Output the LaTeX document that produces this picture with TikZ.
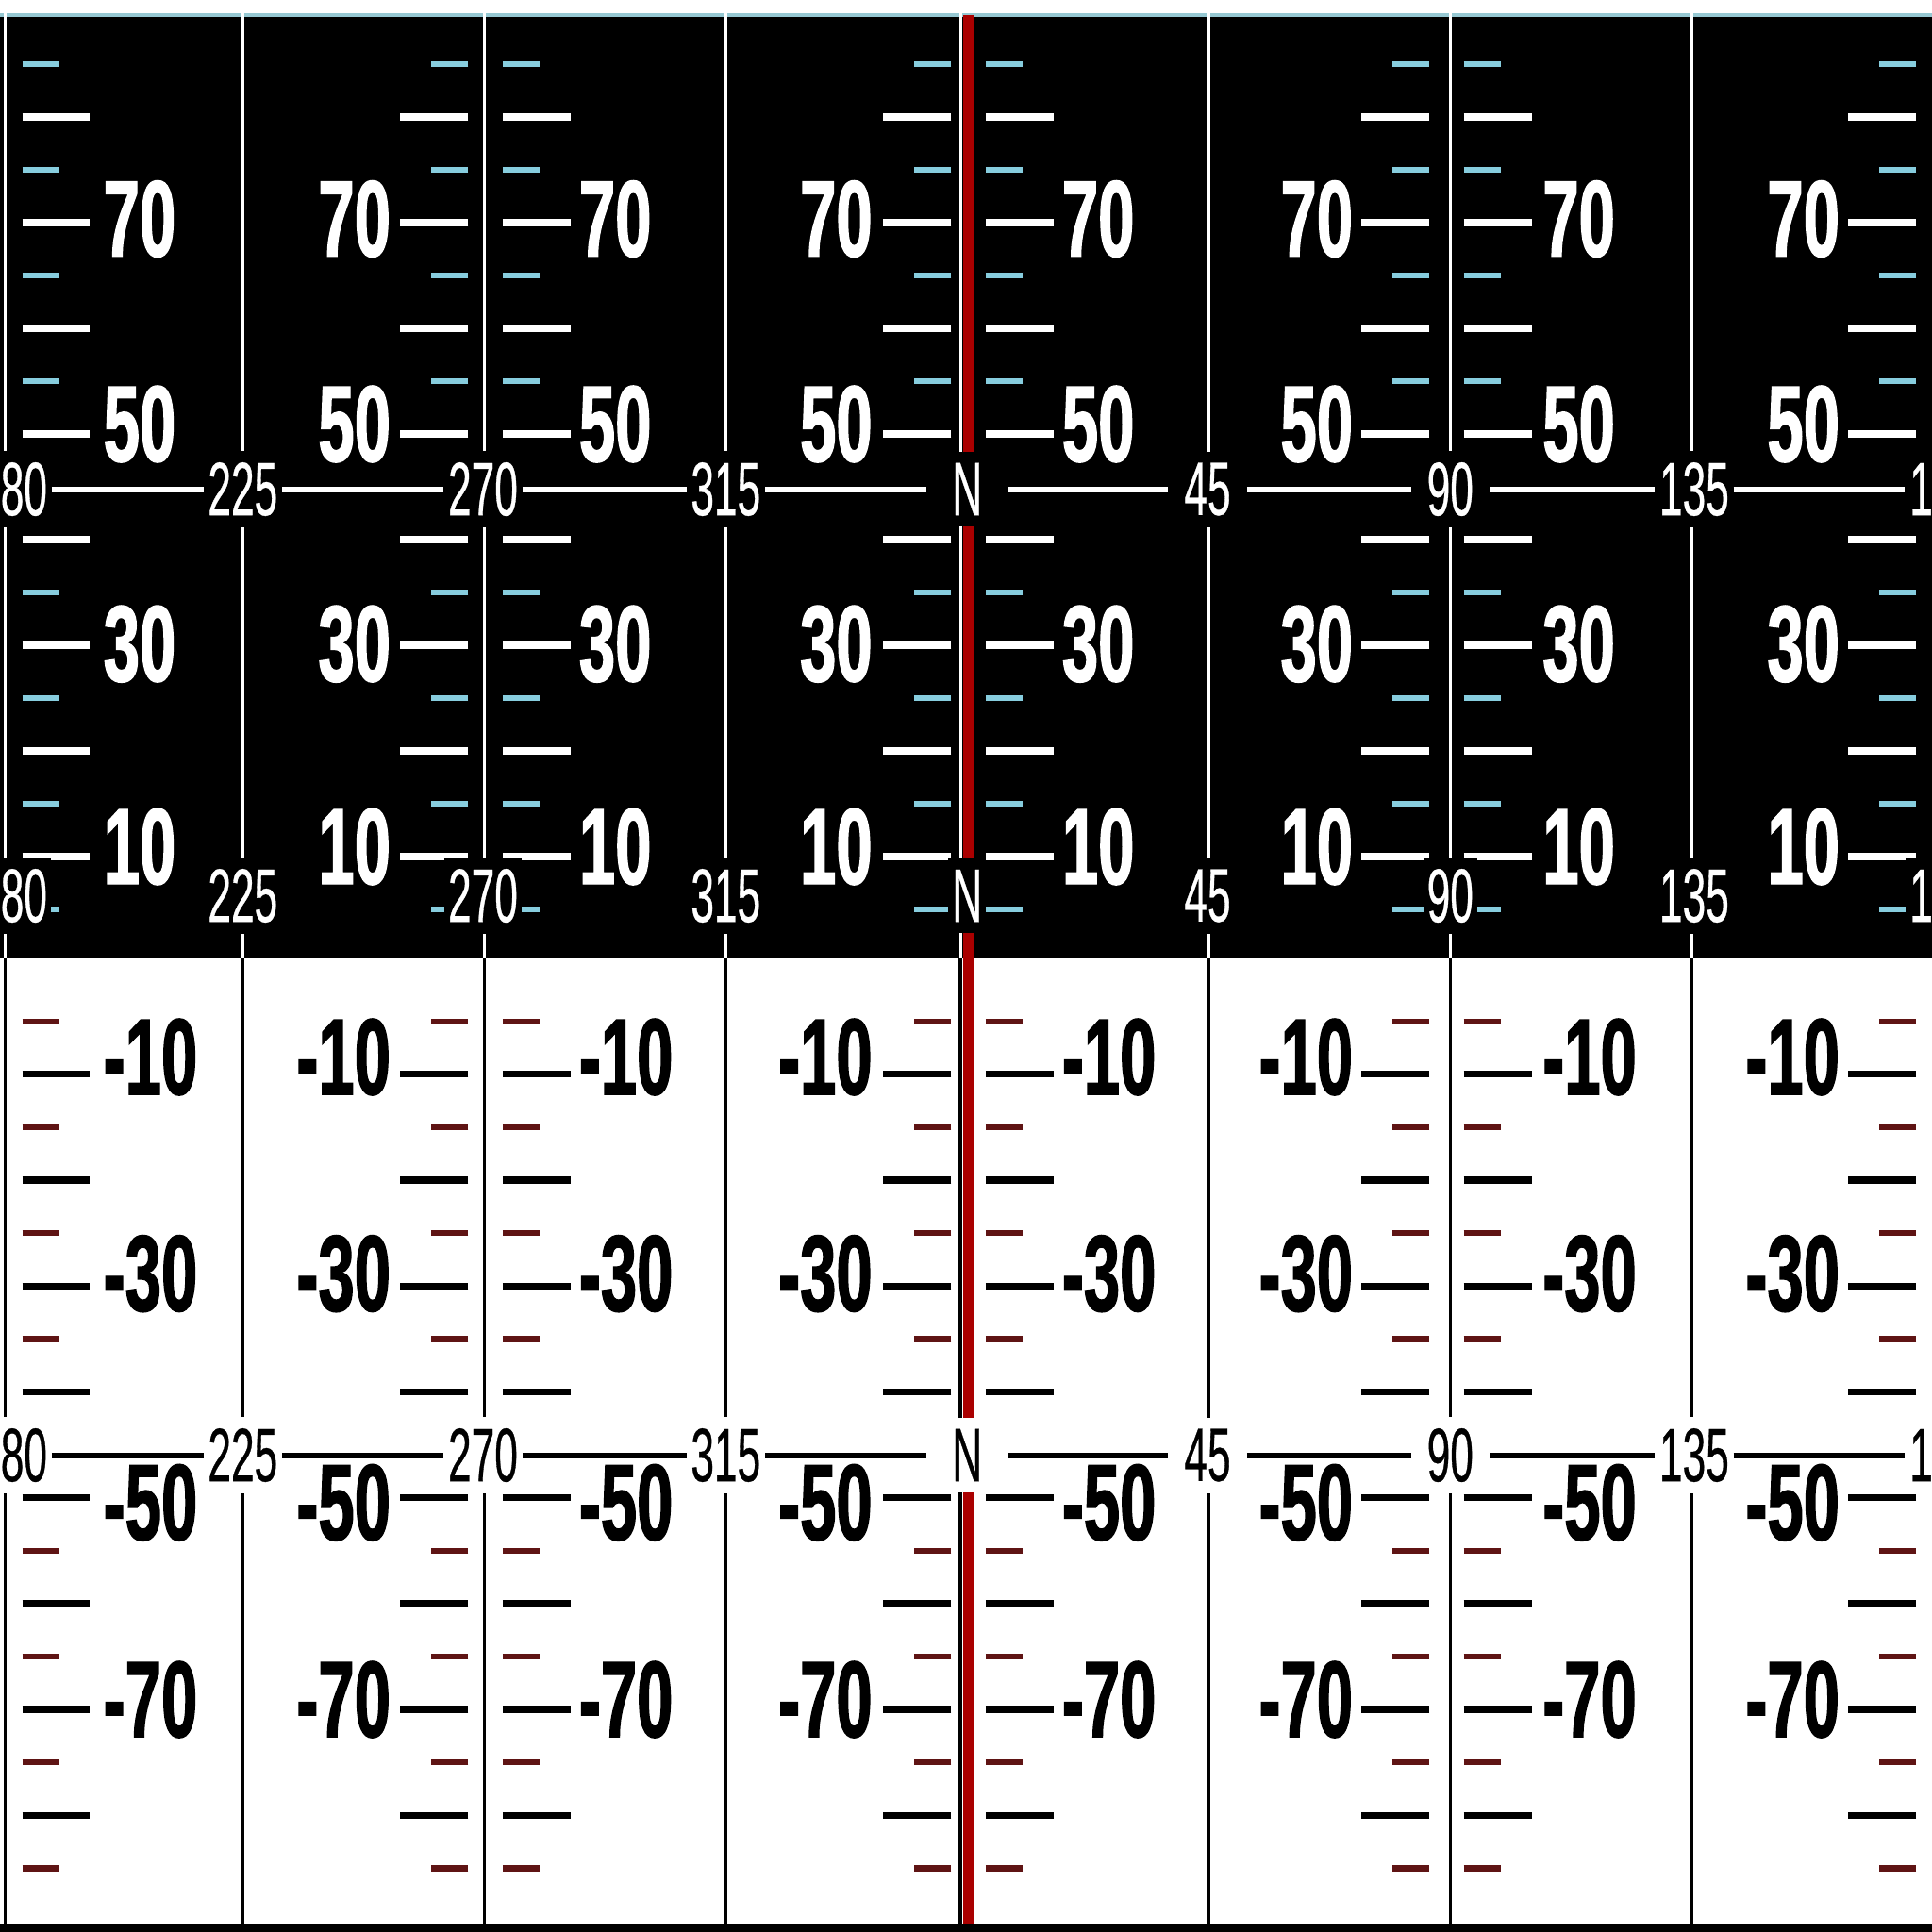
\documentclass[tikz,border=0pt]{standalone}
\usepackage{fontspec}
\newfontfamily\pitchfont{Liberation Sans Bold}[FakeStretch=0.6,FakeBold=1.2]
\newfontfamily\hdgfont{Liberation Sans}[FakeStretch=0.55,FakeBold=0.4]
\definecolor{tickcyan}{RGB}{135,205,222}
\definecolor{tickbrown}{RGB}{95,20,20}
\definecolor{redln}{RGB}{170,0,0}
\definecolor{topln}{RGB}{150,200,210}
\begin{document}
\begin{tikzpicture}[x=0.01cm,y=-0.01cm,
  longW/.style={draw=white,line width=1.55pt},
  shortC/.style={draw=tickcyan,line width=1.4pt},
  longB/.style={draw=black,line width=1.55pt},
  shortR/.style={draw=tickbrown,line width=1.4pt},
  vlineW/.style={draw=white,line width=0.65pt},
  vlineB/.style={draw=black,line width=0.75pt},
  redstripe/.style={draw=redln,line width=2.6pt},
  hlineW/.style={draw=white,line width=1.3pt},
  hlineB/.style={draw=black,line width=1.3pt},
  pnum/.style={inner sep=0pt,outer sep=0pt,font=\pitchfont\fontsize{25}{25}\selectfont},
  pnumW/.style={pnum,text=white},
  pnumB/.style={pnum,text=black},
  hdg/.style={inner xsep=0.9pt,inner ysep=2.6pt,outer sep=0pt,font=\hdgfont\fontsize{17.5}{17.5}\selectfont},
  hdgW/.style={hdg,fill=black,text=white},
  hdgB/.style={hdg,fill=white,text=black},
  hbox/.style={minimum width=18.2pt},
  nwide/.style={minimum width=18.8pt}]
\useasboundingbox (0,0) rectangle (1568,1568);
\clip (0,0) rectangle (1568,1568);
% backgrounds
\fill[white] (0,0) rectangle (1568,1568);
\fill[black] (0,12) rectangle (1568,777);
\draw[topln,line width=0.8pt] (0,12) -- (1568,12);
\fill[black] (0,1562) rectangle (1568,1568);
% vertical lines
\foreach \x in {4,197,393,589,779.5,981,1177,1373} {
  \draw[vlineW] (\x,10) -- (\x,777);
  \draw[vlineB] (\x,777) -- (\x,1562);
}
\draw[redstripe] (786,12) -- (786,1562);
% ticks right of a boundary
\foreach \a in {18,408,800,1188} {
  \foreach \p in {10,20,30,40,50,60,70,80} {
    \draw[longW] (\a,{780.9-8.575*\p}) -- ++(55,0);
    \draw[longB] (\a,{786+8.59*\p}) -- ++(55,0);
  }
  \foreach \p in {5,15,25,35,55,65,75,85} {
    \draw[shortC] (\a,{780.9-8.575*\p}) -- ++(30,0);
    \draw[shortR] (\a,{786+8.59*\p}) -- ++(30,0);
  }
}
% ticks left of a boundary
\foreach \e in {380,772,1160,1555} {
  \foreach \p in {10,20,30,40,50,60,70,80} {
    \draw[longW] (\e,{780.9-8.575*\p}) -- ++(-55,0);
    \draw[longB] (\e,{786+8.59*\p}) -- ++(-55,0);
  }
  \foreach \p in {5,15,25,35,55,65,75,85} {
    \draw[shortC] (\e,{780.9-8.575*\p}) -- ++(-30,0);
    \draw[shortR] (\e,{786+8.59*\p}) -- ++(-30,0);
  }
}
% pitch numbers (value / vertical offset of the upper label / of the lower label)
\foreach \x in {84,470,862,1252} {
  \foreach \p/\du/\dd in {10/-8/-14,30/-1/-10,50/-8/4,70/-3/-8} {
    \node[pnumW,anchor=west] (pu-\x-\p) at (\x,{780.9-8.575*\p+\du}) {\p};
    \node[pnumB,anchor=west] (pd-\x-\p) at (\x,{786+8.59*\p+\dd}) {-\p};
  }
}
\foreach \x in {317,708,1098,1493} {
  \foreach \p/\du/\dd in {10/-8/-14,30/-1/-10,50/-8/4,70/-3/-8} {
    \node[pnumW,anchor=east] (pu-\x-\p) at (\x,{780.9-8.575*\p+\du}) {\p};
    \node[pnumB,anchor=east] (pd-\x-\p) at (\x,{786+8.59*\p+\dd}) {-\p};
  }
}
% heading row 1 (black area)
\node[hdgW,hbox] (r1a) at (10,397) {180};
\node[hdgW,hbox] (r1b) at (197,397) {225};
\node[hdgW,hbox] (r1c) at (392,397) {270};
\node[hdgW,hbox] (r1d) at (589,397) {315};
\node[hdgW,nwide] (r1e) at (785,397) {N};
\node[hdgW,hbox] (r1f) at (980,397) {45};
\node[hdgW,hbox] (r1g) at (1177,397) {90};
\node[hdgW,hbox] (r1h) at (1375,397) {135};
\node[hdgW,hbox] (r1i) at (1578,397) {180};
\foreach \a/\b in {a/b,b/c,c/d,d/e,e/f,f/g,g/h,h/i}
  \draw[hlineW] (r1\a.east) -- (r1\b.west);
% heading row 2 (black area)
\node[hdgW] (r2a) at (10,727) {180};
\node[hdgW] (r2b) at (197,727) {225};
\node[hdgW] (r2c) at (392,727) {270};
\node[hdgW] (r2d) at (589,727) {315};
\node[hdgW] (r2e) at (785,727) {N};
\node[hdgW] (r2f) at (980,727) {45};
\node[hdgW] (r2g) at (1177,727) {90};
\node[hdgW] (r2h) at (1375,727) {135};
\node[hdgW] (r2i) at (1578,727) {180};
% heading row 3 (white area)
\node[hdgB,hbox] (r3a) at (10,1181) {180};
\node[hdgB,hbox] (r3b) at (197,1181) {225};
\node[hdgB,hbox] (r3c) at (392,1181) {270};
\node[hdgB,hbox] (r3d) at (589,1181) {315};
\node[hdgB,nwide] (r3e) at (785,1181) {N};
\node[hdgB,hbox] (r3f) at (980,1181) {45};
\node[hdgB,hbox] (r3g) at (1177,1181) {90};
\node[hdgB,hbox] (r3h) at (1375,1181) {135};
\node[hdgB,hbox] (r3i) at (1578,1181) {180};
\foreach \a/\b in {a/b,b/c,c/d,d/e,e/f,f/g,g/h,h/i}
  \draw[hlineB] (r3\a.east) -- (r3\b.west);
\end{tikzpicture}
\end{document}
